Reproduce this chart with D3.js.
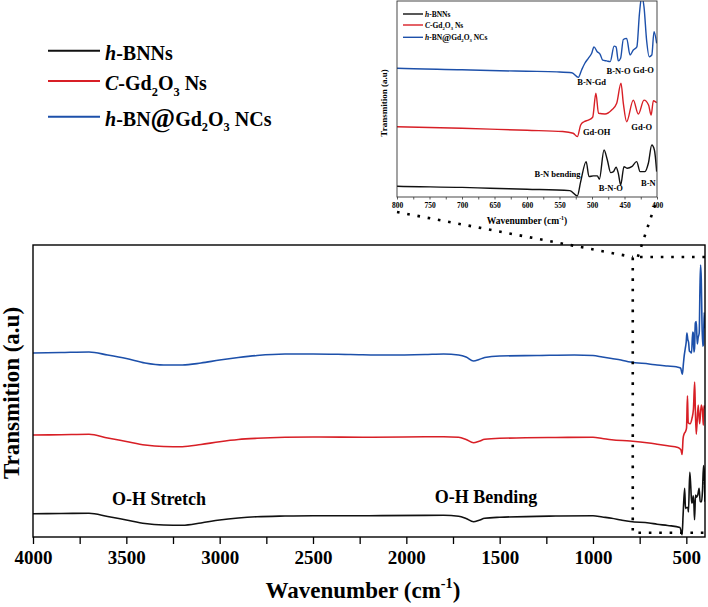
<!DOCTYPE html>
<html><head><meta charset="utf-8">
<script src="https://cdn.jsdelivr.net/npm/d3@7"></script>
<style>
body{margin:0;background:#fff}
svg{display:block}
text{font-family:"Liberation Serif","Times New Roman",serif;font-weight:bold;fill:#000}
</style>
</head><body>
<svg id="chart" width="708" height="607"></svg>
<script>
// ---------------- DATA ----------------
const seriesKeys = ["hBNNs", "cGd2O3", "hBNGd2O3"];
const legendLabels = [
  [{t:"h",i:1},{t:"-BNNs"}],
  [{t:"C",i:1},{t:"-Gd"},{t:"2",s:1},{t:"O"},{t:"3",s:1},{t:" Ns"}],
  [{t:"h",i:1},{t:"-BN"},{t:"@",big:1},{t:"Gd"},{t:"2",s:1},{t:"O"},{t:"3",s:1},{t:" NCs"}]
];
// [wavenumber (cm^-1), transmission (a.u., stacked offset)]
const blackSpectrum = [
  [4000,23.3],[3850,23.5],[3700,23.7],[3600,20.5],[3500,17],[3400,13.5],[3300,12],[3200,11.7],
  [3100,14],[3000,17],[2900,19],[2800,20.3],[2650,21],[2500,21.3],[2200,21.3],[1900,21.6],
  [1800,21.7],[1720,20.8],[1680,18.5],[1640,15.3],[1610,16.8],[1580,18.7],[1500,19.7],[1200,21],
  [1000,21.3],[950,20],[900,18.7],[850,17],[800,15.5],[700,14],[657,12.8],[600,11.5],[534,9.6],
  [522.6,2.4],[517.4,21.8],[509,48.8],[504.6,28.5],[498,29.5],[491.8,29.5],[488.7,25],[481.5,64.6],
  [476.4,51],[471.3,34],[467,35.3],[463,41.2],[459.5,33],[455.9,17.3],[450.8,42],[445.6,39.9],
  [438.9,42],[431.3,48.8],[426,35.3],[418.5,35.3],[413.3,46.6],[408,71.4],[404,64.6],[400.5,35.3]
];
const redSpectrum = [
  [4000,102],[3850,102.3],[3700,102.7],[3600,99],[3500,95.5],[3400,92],[3300,90.5],[3200,90.3],
  [3100,92.5],[3000,95.3],[2900,97.5],[2800,98.7],[2650,99.7],[2500,100],[2200,99.7],[1900,100.2],
  [1800,100.3],[1720,99.7],[1680,97.5],[1640,94.3],[1610,95.8],[1580,97.7],[1500,98.7],[1200,99.5],
  [1000,99.7],[950,98.5],[900,97.2],[800,96],[700,94],[657,92.8],[600,91.2],[545,89.6],[529,87.2],[522.6,82.6],
  [517.4,98.4],[512.3,102.8],[505.6,105],[499,108.8],[494,141.2],[490,114.2],[480,113.2],
  [469.7,118.6],[462,127.7],[455.4,155],[451.8,127.7],[446.7,102.8],[436.5,132],[428.7,113.2],
  [420,132],[413,125.4],[409,111.9],[405.6,131.2],[400.5,128.5]
];
const blueSpectrum = [
  [4000,184],[3850,184.5],[3700,185],[3600,182],[3500,178.5],[3400,174],[3300,172],[3200,172],
  [3100,174],[3000,177],[2900,179.5],[2800,181.5],[2650,183],[2500,183],[2300,182.5],[2100,182],
  [1900,182.5],[1800,183],[1720,182],[1680,180],[1640,176],[1610,177.5],[1580,179.5],[1500,181],
  [1300,181.5],[1100,182],[1000,181.5],[950,180],[900,178.5],[850,177],[800,175],[700,173],
  [657,172],[600,171],[554,170.2],[531,169],[521,162.8],[516,172.7],[511,181.8],[505.7,188.5],[500.5,195.3],
  [497,204],[492,197.4],[487.7,194.3],[483.5,186],[477.4,185],[472,184],[466,205],[463,204],
  [459.5,185],[456,188.5],[451.8,214],[446.7,215.5],[441.5,193],[436.5,199.7],[431,204],[427,249],
  [423.6,272],[420,258],[416,213],[412,190.7],[408,193],[404.6,224.5],[400.5,208.8]
];
const mainTickLabels = [4000,3500,3000,2500,2000,1500,1000,500];
const mainMinorTicks = [4000,3750,3500,3250,3000,2750,2500,2250,2000,1750,1500,1250,1000,750,500];
const insetTickLabels = [800,750,700,650,600,550,500,450,400];
const insetMinorTicks = [800,775,750,725,700,675,650,625,600,575,550,525,500,475,450,425,400];
const mainAnnotations = [
  {text:"O-H Stretch", wn:3325, v:32},
  {text:"O-H Bending", wn:1573, v:34}
];
const insetAnnotations = [
  {text:"B-N-Gd", wn:500.5, v:152.4},
  {text:"B-N-O", wn:459.2, v:167.3},
  {text:"Gd-O", wn:420.8, v:168.6},
  {text:"Gd-OH", wn:492.8, v:84.8},
  {text:"Gd-O", wn:423.5, v:91.6},
  {text:"B-N bending", wn:553, v:27.4},
  {text:"B-N-O", wn:471, v:9.1},
  {text:"B-N", wn:413.4, v:15.9}
];
const zoomRegion = {wnFrom:787, vTop:280, vBottom:4.3};

// ---------------- STYLE / LAYOUT ----------------
const colors = {hBNNs:"#111111", cGd2O3:"#d81f26", hBNGd2O3:"#1d50aa"};
const spectra = {hBNNs:blackSpectrum, cGd2O3:redSpectrum, hBNGd2O3:blueSpectrum};
const svg = d3.select("#chart");

const M = {left:33, right:705, top:245, bottom:537};
const x = d3.scaleLinear().domain([4000,400]).range([M.left, M.right]);
const y = d3.scaleLinear().domain([0,292]).range([M.bottom, M.top]);

const I = {left:397, right:657, top:1, bottom:197};
const ix = d3.scaleLinear().domain([800,400]).range([I.left, I.right]);
const iy = d3.scaleLinear().domain([1,266]).range([I.bottom, I.top]);

function rich(textSel, segs, size){
  let shift = 0;
  segs.forEach(s=>{
    const ts = textSel.append("tspan").text(s.t);
    if (s.i) ts.attr("font-style","italic");
    const want = s.s ? size*0.28 : (s.sup ? -size*0.42 : (s.big ? size*0.06 : 0));
    if (want !== shift){ ts.attr("dy", want - shift); shift = want; }
    if (s.s || s.sup) ts.attr("font-size", size*0.62);
    if (s.big) ts.attr("font-size", size*1.32);
  });
}

// ---------------- MAIN CHART ----------------
const defs = svg.append("defs");
defs.append("clipPath").attr("id","mainClip").append("rect")
  .attr("x",M.left).attr("y",M.top).attr("width",M.right-M.left).attr("height",M.bottom-M.top);
defs.append("clipPath").attr("id","insetClip").append("rect")
  .attr("x",I.left).attr("y",I.top).attr("width",I.right-I.left).attr("height",I.bottom-I.top);

const lineMain = d3.line().x(d=>x(d[0])).y(d=>y(d[1])).curve(d3.curveMonotoneX);
const gLines = svg.append("g").attr("clip-path","url(#mainClip)");
seriesKeys.forEach(k=>{
  const data = spectra[k].slice().sort((a,b)=>a[0]-b[0]);
  gLines.append("path").attr("d", lineMain(data)).attr("fill","none")
    .attr("stroke", colors[k]).attr("stroke-width",1.6).attr("stroke-linejoin","round");
});

// frame
svg.append("rect").attr("x",M.left).attr("y",M.top).attr("width",M.right-M.left)
  .attr("height",M.bottom-M.top).attr("fill","none").attr("stroke","#000").attr("stroke-width",1.4);

// x axis
const ax = svg.append("g").attr("transform",`translate(0,${M.bottom})`)
  .call(d3.axisBottom(x).tickValues(mainMinorTicks).tickSize(7).tickPadding(7)
    .tickFormat(d => mainTickLabels.includes(d) ? d : ""));
ax.attr("font-family",null);
ax.select(".domain").remove();
ax.selectAll(".tick line").attr("stroke","#000").attr("stroke-width",1.3);
ax.selectAll(".tick text").attr("font-size",19).attr("fill","#000");

// axis titles
const xt = svg.append("text").attr("x",363).attr("y",598).attr("text-anchor","middle").attr("font-size",23);
rich(xt, [{t:"Wavenumber (cm"},{t:"-1",sup:1},{t:")"}], 23);
svg.append("text").attr("transform","translate(19,393) rotate(-90)").attr("text-anchor","middle")
  .attr("font-size",23).text("Transmition (a.u)");

// annotations
mainAnnotations.forEach(a=>{
  svg.append("text").attr("x",x(a.wn)).attr("y",y(a.v)).attr("text-anchor","middle")
    .attr("font-size",18).text(a.text);
});

// zoom region box (dotted)
const zx0 = x(zoomRegion.wnFrom), zyT = y(zoomRegion.vTop), zyB = y(zoomRegion.vBottom);
const dotted = {stroke:"#000","stroke-width":2.6,"stroke-dasharray":"2.6 7.8",fill:"none"};
function applyDots(sel){ Object.entries(dotted).forEach(([k,v])=>sel.attr(k,v)); return sel; }
applyDots(svg.append("path").attr("d",`M${M.right},${zyT}H${zx0}V${zyB}H${M.right}`));
// connectors to inset
applyDots(svg.append("path").attr("d",`M${I.left},${I.bottom+15}L${zx0},${zyT}`));
applyDots(svg.append("path").attr("d",`M${I.right-2},${I.bottom+8}L${zx0+5},${zyT}`));

// legend (main)
const legendY = [50.7, 81, 116.7];
seriesKeys.forEach((k,i)=>{
  svg.append("line").attr("x1",48).attr("x2",100).attr("y1",legendY[i]).attr("y2",legendY[i])
    .attr("stroke",colors[k]).attr("stroke-width",2);
  const t = svg.append("text").attr("x",105).attr("y",legendY[i]+9).attr("font-size",20);
  rich(t, legendLabels[i], 20);
});

// ---------------- INSET ----------------
const gi = svg.append("g");
gi.append("rect").attr("x",I.left).attr("y",I.top).attr("width",I.right-I.left)
  .attr("height",I.bottom-I.top).attr("fill","#fff");
const lineInset = d3.line().x(d=>ix(d[0])).y(d=>iy(d[1])).curve(d3.curveMonotoneX);
const giLines = gi.append("g").attr("clip-path","url(#insetClip)");
seriesKeys.forEach(k=>{
  const data = spectra[k].filter(d=>d[0]<=850).sort((a,b)=>a[0]-b[0]);
  giLines.append("path").attr("d", lineInset(data)).attr("fill","none")
    .attr("stroke", colors[k]).attr("stroke-width",1.4).attr("stroke-linejoin","round");
});
gi.append("rect").attr("x",I.left).attr("y",I.top).attr("width",I.right-I.left)
  .attr("height",I.bottom-I.top).attr("fill","none").attr("stroke","#333").attr("stroke-width",0.9);
const iax = gi.append("g").attr("transform",`translate(0,${I.bottom})`)
  .call(d3.axisBottom(ix).tickValues(insetMinorTicks).tickSize(2.5).tickPadding(3)
    .tickFormat(d => insetTickLabels.includes(d) ? d : ""));
iax.attr("font-family",null);
iax.select(".domain").remove();
iax.selectAll(".tick line").attr("stroke","#333").attr("stroke-width",0.8);
iax.selectAll(".tick text").attr("font-size",7.5).attr("fill","#000");
const ixt = gi.append("text").attr("x",527).attr("y",224).attr("text-anchor","middle").attr("font-size",9.5);
rich(ixt, [{t:"Wavenumber (cm"},{t:"-1",sup:1},{t:")"}], 9.5);
gi.append("text").attr("transform","translate(387,103) rotate(-90)").attr("text-anchor","middle")
  .attr("font-size",9).text("Transmition (a.u)");
insetAnnotations.forEach(a=>{
  gi.append("text").attr("x",ix(a.wn)).attr("y",iy(a.v)).attr("text-anchor","middle")
    .attr("font-size",8.5).text(a.text);
});
const iLegendY = [14, 25, 37.3];
seriesKeys.forEach((k,i)=>{
  gi.append("line").attr("x1",403).attr("x2",423).attr("y1",iLegendY[i]).attr("y2",iLegendY[i])
    .attr("stroke",colors[k]).attr("stroke-width",1.4);
  const t = gi.append("text").attr("x",425).attr("y",iLegendY[i]+2.8).attr("font-size",7.5);
  rich(t, legendLabels[i], 7.5);
});
</script>
</body></html>
